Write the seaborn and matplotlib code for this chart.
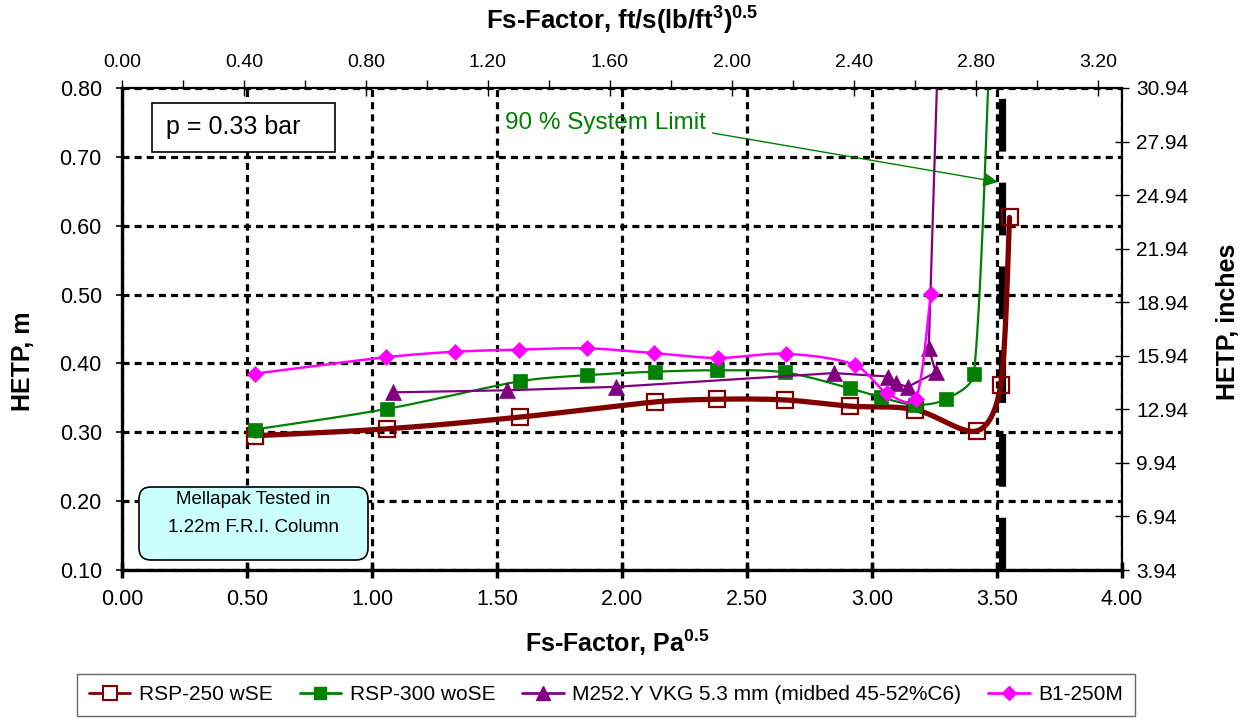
import numpy as np
import pandas as pd
import matplotlib
matplotlib.use("Agg")
import matplotlib.pyplot as plt
import matplotlib.transforms as mtrans
import seaborn as sns
from matplotlib.lines import Line2D
from matplotlib.patches import Rectangle, FancyBboxPatch

# ---------------- data ----------------
rsp250_x = [0.53, 1.06, 1.59, 2.13, 2.38, 2.65, 2.91, 3.17, 3.42, 3.515, 3.55]
rsp250_y = [0.295, 0.305, 0.322, 0.344, 0.348, 0.347, 0.338, 0.333, 0.302, 0.369, 0.612]

rsp300_x = [0.53, 1.06, 1.59, 1.86, 2.13, 2.38, 2.65, 2.91, 3.035, 3.17, 3.295, 3.407, 3.475]
rsp300_y = [0.304, 0.334, 0.374, 0.383, 0.388, 0.390, 0.387, 0.364, 0.351, 0.340, 0.348, 0.384, 0.90]

m252_x = [1.085, 1.54, 1.975, 2.847, 3.063, 3.095, 3.143, 3.255, 3.227, 3.268]
m252_y = [0.358, 0.361, 0.366, 0.386, 0.381, 0.371, 0.366, 0.387, 0.422, 0.90]

b1_x = [0.53, 1.055, 1.333, 1.586, 1.858, 2.126, 2.382, 2.655, 2.93, 3.059, 3.175, 3.235]
b1_y = [0.385, 0.409, 0.417, 0.420, 0.422, 0.415, 0.408, 0.414, 0.398, 0.357, 0.348, 0.501]

system_limit_x = 3.52

series_labels = ["RSP-250 wSE", "RSP-300 woSE",
                 "M252.Y VKG 5.3 mm (midbed 45-52%C6)", "B1-250M"]

x_ticks = [0.0, 0.5, 1.0, 1.5, 2.0, 2.5, 3.0, 3.5, 4.0]
y_ticks = [0.1, 0.2, 0.3, 0.4, 0.5, 0.6, 0.7, 0.8]
y2_ticks = [3.94, 6.94, 9.94, 12.94, 15.94, 18.94, 21.94, 24.94, 27.94, 30.94]
x2_ticks = [0.0, 0.4, 0.8, 1.2, 1.6, 2.0, 2.4, 2.8, 3.2]
x2_minor = [0.2, 0.6, 1.0, 1.4, 1.8, 2.2, 2.6, 3.0]
fs_conv = 1.21989  # Pa^0.5 per ft/s(lb/ft3)^0.5

# ---------------- style ----------------
sns.set_theme(style="white", rc={
    "axes.edgecolor": "black", "text.color": "black",
    "xtick.color": "black", "ytick.color": "black",
    "axes.labelcolor": "black",
})
plt.rcParams["font.family"] = ["Liberation Sans", "DejaVu Sans"]
plt.rcParams["mathtext.fontset"] = "custom"
plt.rcParams["mathtext.rm"] = "Liberation Sans"
plt.rcParams["mathtext.bf"] = "Liberation Sans:bold"

W, H = 1248, 720
fig = plt.figure(figsize=(W / 100, H / 100), dpi=100)
ax = fig.add_axes([122 / W, 1 - 570 / H, 1000 / W, 482 / H])

SX, SY = 249.75, 688.6


def smooth(x, y, n=40):
    """Excel-like smoothed curve (cubic Bezier, Catmull-Rom tangents with
    handle length limited by the segment length) computed in screen space."""
    P = np.column_stack([np.asarray(x) * SX, np.asarray(y) * SY])
    m = len(P)
    T = []
    for i in range(m):
        a = P[max(i - 1, 0)]
        b = P[min(i + 1, m - 1)]
        T.append(b - a)
    pts = [P[0]]
    t = np.linspace(0, 1, n)[1:, None]
    for i in range(m - 1):
        p1, p2 = P[i], P[i + 1]
        seg = np.hypot(*(p2 - p1))
        t1, t2 = T[i], T[i + 1]
        n1, n2 = np.hypot(*t1), np.hypot(*t2)
        h1 = min(n1 / 6, seg / 3)
        h2 = min(n2 / 6, seg / 3)
        c1 = p1 + t1 / n1 * h1
        c2 = p2 - t2 / n2 * h2
        s = (1 - t) ** 3 * p1 + 3 * (1 - t) ** 2 * t * c1 + 3 * (1 - t) * t ** 2 * c2 + t ** 3 * p2
        pts.extend(s)
    pts = np.array(pts)
    return pts[:, 0] / SX, pts[:, 1] / SY


c_red, c_green, c_purple, c_mag = "#800000", "#008000", "#800080", "#FF00FF"

# system limit line
ax.plot([system_limit_x, system_limit_x], [0.1, 0.8], color="black", lw=5.2,
        linestyle=(0, (7.3, 4.3)), zorder=1.8, solid_capstyle="butt")

# RSP-250
sx, sy = smooth(rsp250_x, rsp250_y)
sns.lineplot(x=sx, y=sy, sort=False, estimator=None, color=c_red, lw=3.8, ax=ax, zorder=2)
sns.lineplot(x=rsp250_x, y=rsp250_y, sort=False, estimator=None, linestyle="", marker="s",
             markersize=12, markerfacecolor="none", markeredgecolor=c_red,
             markeredgewidth=1.6, ax=ax, zorder=2.1)

# RSP-300
sx, sy = smooth(rsp300_x, rsp300_y)
sns.lineplot(x=sx, y=sy, sort=False, estimator=None, color=c_green, lw=1.6, ax=ax, zorder=3)
sns.lineplot(x=rsp300_x, y=rsp300_y, sort=False, estimator=None, linestyle="", marker="s",
             markersize=10.5, markerfacecolor=c_green, markeredgecolor=c_green,
             markeredgewidth=0.5, ax=ax, zorder=3.1)

# M252
sns.lineplot(x=m252_x, y=m252_y, sort=False, estimator=None, color=c_purple, lw=1.6, ax=ax, zorder=4)
sns.lineplot(x=m252_x, y=m252_y, sort=False, estimator=None, linestyle="", marker="^",
             markersize=11, markerfacecolor=c_purple, markeredgecolor=c_purple,
             markeredgewidth=0.5, ax=ax, zorder=4.1)

# B1-250M
sx, sy = smooth(b1_x, b1_y)
sns.lineplot(x=sx, y=sy, sort=False, estimator=None, color=c_mag, lw=1.8, ax=ax, zorder=5)
sns.lineplot(x=b1_x, y=b1_y, sort=False, estimator=None, linestyle="", marker="D",
             markersize=8, markerfacecolor=c_mag, markeredgecolor=c_mag,
             markeredgewidth=0.5, ax=ax, zorder=5.1)

ax.set_xticks(x_ticks)
ax.set_yticks(y_ticks)
ax.set_xlim(0, 4.0)
ax.set_ylim(0.1, 0.8)
ax.set_xticklabels([f"{v:.2f}" for v in x_ticks], fontsize=15.5)
ax.set_yticklabels([f"{v:.2f}" for v in y_ticks], fontsize=15.5)
ax.grid(True, color="black", linestyle=(0, (2.2, 1.6)), linewidth=2.3)
ax.set_axisbelow(True)
ax.tick_params(axis="x", direction="inout", length=12, width=2.5, pad=8)
ax.tick_params(axis="y", direction="inout", length=9, width=1.2, pad=10)
ax.spines["left"].set_linewidth(2.4)
ax.spines["bottom"].set_linewidth(2.4)
ax.spines["top"].set_visible(False)
ax.spines["right"].set_visible(False)
ax.set_xlabel("")
ax.set_ylabel("")

# right axis (inches)
ax2 = ax.twinx()
ax2.set_yticks(y2_ticks)
ax2.set_ylim(3.94, 30.94)
ax2.set_yticklabels([f"{v:.2f}" for v in y2_ticks], fontsize=15)
ax2.tick_params(axis="y", direction="inout", length=10, width=1.0, pad=5)
for s in ["left", "top", "bottom"]:
    ax2.spines[s].set_visible(False)
ax2.spines["right"].set_linewidth(1.6)
ax2.grid(False)

# top axis (ft/s(lb/ft3)^0.5)
ax3 = ax.twiny()
ax3.set_xticks(x2_ticks)
ax3.set_xticks(x2_minor, minor=True)
ax3.set_xlim(0, 4.0 / fs_conv)
ax3.set_xticklabels([f"{v:.2f}" for v in x2_ticks], fontsize=14)
ax3.tick_params(axis="x", which="major", direction="inout", length=12, width=1.0, pad=6)
ax3.tick_params(axis="x", which="minor", direction="out", length=6, width=1.0, bottom=False)
for s in ["left", "right", "bottom"]:
    ax3.spines[s].set_visible(False)
ax3.spines["top"].set_linewidth(1.6)
ax3.grid(False)

# pixel coordinate transform (top-left origin)
pix = mtrans.Affine2D().scale(1 / W, -1 / H).translate(0, 1) + fig.transFigure

# axis titles
fig.text(622, 20, r"Fs-Factor, ft/s(lb/ft$^{\mathbf{3}}$)$^{\mathbf{0.5}}$", transform=pix,
         fontsize=18.5, fontweight="bold", ha="center", va="center")
fig.text(617, 643, r"Fs-Factor, Pa$^{\mathbf{0.5}}$", transform=pix,
         fontsize=18, fontweight="bold", ha="center", va="center")
fig.text(23, 361, "HETP, m", transform=pix, rotation=90,
         fontsize=18, fontweight="bold", ha="center", va="center")
fig.text(1228, 322, "HETP, inches", transform=pix, rotation=90,
         fontsize=18, fontweight="bold", ha="center", va="center")

# annotation boxes
fig.patches.append(Rectangle((152, 103), 183, 49, transform=pix, facecolor="white",
                             edgecolor="black", lw=1.2, zorder=6, figure=fig))
fig.text(166, 127, "p = 0.33 bar", transform=pix, fontsize=18, ha="left", va="center", zorder=7)

fig.patches.append(FancyBboxPatch((139, 487), 229, 73, boxstyle="round,pad=0,rounding_size=12",
                                  transform=pix, facecolor="#CCFFFF", edgecolor="black",
                                  lw=1.2, zorder=6, figure=fig))
fig.text(253, 500, "Mellapak Tested in", transform=pix, fontsize=13.5, ha="center", va="center", zorder=7)
fig.text(253, 528, "1.22m F.R.I. Column", transform=pix, fontsize=13.5, ha="center", va="center", zorder=7)

# 90 % system limit annotation
ax.text((505 - 122) / SX, (570 - 123) / SY + 0.1, "90 % System Limit", color=c_green,
        fontsize=17.5, ha="left", va="center", zorder=7)
ax.annotate("", xy=((997 - 122) / SX, (570 - 182) / SY + 0.1),
            xytext=((712 - 122) / SX, (570 - 133) / SY + 0.1),
            arrowprops=dict(arrowstyle="-|>", color=c_green, lw=1.0, mutation_scale=22,
                            shrinkA=0, shrinkB=0), zorder=7)

# legend
handles = [
    Line2D([], [], color=c_red, lw=2.0, marker="s", markersize=10, markerfacecolor="white",
           markeredgecolor=c_red, markeredgewidth=1.5),
    Line2D([], [], color=c_green, lw=2.0, marker="s", markersize=9, markerfacecolor=c_green,
           markeredgecolor=c_green),
    Line2D([], [], color=c_purple, lw=2.0, marker="^", markersize=10, markerfacecolor=c_purple,
           markeredgecolor=c_purple),
    Line2D([], [], color=c_mag, lw=2.0, marker="D", markersize=7, markerfacecolor=c_mag,
           markeredgecolor=c_mag),
]
leg = fig.legend(handles, series_labels, loc="center", bbox_to_anchor=(606 / W, 1 - 695 / H),
                 ncol=4, frameon=True, fancybox=False, edgecolor="#404040", fontsize=15,
                 handlelength=2.0, handletextpad=0.4, columnspacing=1.3, borderpad=0.55)
leg.get_frame().set_linewidth(1.0)

fig.savefig("out.png", dpi=100, facecolor="white")
